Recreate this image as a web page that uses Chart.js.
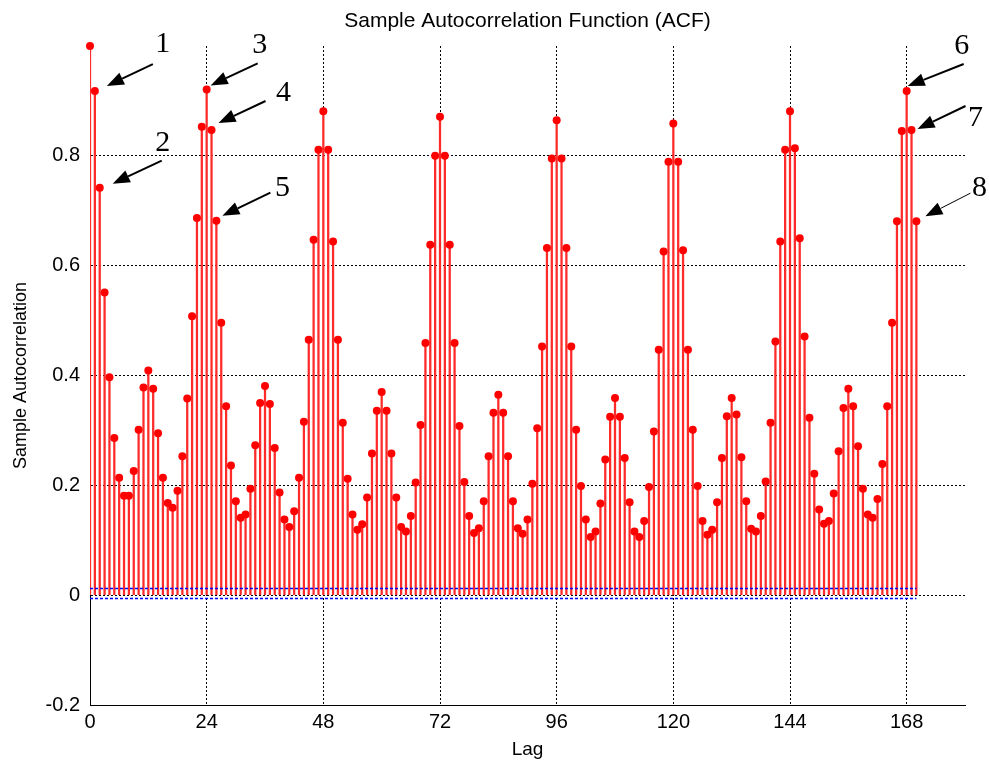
<!DOCTYPE html>
<html><head><meta charset="utf-8">
<script src="https://cdn.jsdelivr.net/npm/chart.js@4/dist/chart.umd.min.js"></script>
<style>html,body{margin:0;padding:0;background:#fff;}#wrap{width:989px;height:767px;}</style>
</head><body><div id="wrap"><canvas id="c" width="989" height="767"></canvas></div>
<script>
const lags = [0,1,2,3,4,5,6,7,8,9,10,11,12,13,14,15,16,17,18,19,20,21,22,23,24,25,26,27,28,29,30,31,32,33,34,35,36,37,38,39,40,41,42,43,44,45,46,47,48,49,50,51,52,53,54,55,56,57,58,59,60,61,62,63,64,65,66,67,68,69,70,71,72,73,74,75,76,77,78,79,80,81,82,83,84,85,86,87,88,89,90,91,92,93,94,95,96,97,98,99,100,101,102,103,104,105,106,107,108,109,110,111,112,113,114,115,116,117,118,119,120,121,122,123,124,125,126,127,128,129,130,131,132,133,134,135,136,137,138,139,140,141,142,143,144,145,146,147,148,149,150,151,152,153,154,155,156,157,158,159,160,161,162,163,164,165,166,167,168,169,170];
const acf = [
1.0, 0.918, 0.742, 0.551, 0.397, 0.286, 0.214, 0.181, 0.181, 0.226,
0.301, 0.378, 0.409, 0.376, 0.295, 0.214, 0.168, 0.159, 0.190, 0.253,
0.358, 0.508, 0.687, 0.853, 0.921, 0.847, 0.682, 0.496, 0.344, 0.236,
0.171, 0.141, 0.147, 0.194, 0.273, 0.350, 0.381, 0.348, 0.268, 0.187,
0.138, 0.124, 0.153, 0.214, 0.316, 0.465, 0.647, 0.811, 0.881, 0.811,
0.644, 0.465, 0.314, 0.212, 0.147, 0.119, 0.129, 0.178, 0.258, 0.336,
0.370, 0.336, 0.258, 0.178, 0.124, 0.116, 0.144, 0.205, 0.310, 0.459,
0.638, 0.800, 0.871, 0.800, 0.638, 0.459, 0.308, 0.206, 0.144, 0.113,
0.122, 0.171, 0.253, 0.332, 0.365, 0.332, 0.253, 0.171, 0.122, 0.112,
0.138, 0.203, 0.304, 0.453, 0.632, 0.795, 0.865, 0.795, 0.632, 0.453,
0.301, 0.199, 0.138, 0.106, 0.116, 0.167, 0.247, 0.325, 0.359, 0.325,
0.250, 0.169, 0.116, 0.106, 0.135, 0.197, 0.298, 0.447, 0.626, 0.789,
0.859, 0.789, 0.628, 0.447, 0.301, 0.199, 0.135, 0.110, 0.119, 0.169,
0.250, 0.326, 0.359, 0.329, 0.251, 0.171, 0.121, 0.116, 0.144, 0.207,
0.314, 0.462, 0.644, 0.811, 0.881, 0.814, 0.650, 0.471, 0.323, 0.221,
0.156, 0.130, 0.135, 0.185, 0.262, 0.341, 0.376, 0.344, 0.271, 0.194,
0.147, 0.141, 0.175, 0.239, 0.344, 0.496, 0.681, 0.845, 0.918, 0.847,
0.681];
const boundLags = [0, 170];
const upperBound = [0.012, 0.012];
const lowerBound = [-0.006, -0.006];
const xTickValues = [0, 24, 48, 72, 96, 120, 144, 168];
const yTickValues = [-0.2, 0, 0.2, 0.4, 0.6, 0.8];
const markLabels = ['1','2','3','4','5','6','7','8'];
const markLags = [1, 2, 24, 25, 26, 168, 169, 170];

// arrow layout (pixel offsets: tip from point, tail from tip, label from tip)
const arrowLayout = [
  {tip:[12,-5], tail:[46,-22], label:[56,-42], w:2},
  {tip:[13,-4], tail:[49,-23], label:[50,-41], w:2},
  {tip:[4,-4], tail:[47,-22], label:[49,-40], w:2},
  {tip:[7,-7], tail:[47,-22], label:[65,-30], w:2},
  {tip:[6,-5], tail:[48,-23], label:[60,-28], w:2},
  {tip:[1,-5], tail:[56,-22], label:[54,-40], w:2},
  {tip:[6,-1], tail:[48,-23], label:[58,-11], w:2},
  {tip:[9,-5], tail:[45,-23], label:[54,-28], w:1}
];

const FONT = '"Liberation Sans", Arial, sans-serif';

const arrowsPlugin = {
  id: 'arrows',
  afterLayout(chart) {
    // centre the title over the plotting area
    const t = chart.titleBlock;
    if (t) { t.left = chart.chartArea.left; t.right = chart.chartArea.right; }
  },
  afterDatasetsDraw(chart) {
    const {ctx, scales:{x, y}} = chart;
    ctx.save();
    markLags.forEach((lag, k) => {
      const a = arrowLayout[k];
      const i = lags.indexOf(lag);
      const px = x.getPixelForValue(lag), py = y.getPixelForValue(acf[i]);
      const tx = px + a.tip[0], ty = py + a.tip[1];
      const sx = tx + a.tail[0], sy = ty + a.tail[1];
      const ang = Math.atan2(ty - sy, tx - sx);
      const L = 17, W = 6.5;
      const bx = tx - L * Math.cos(ang), by = ty - L * Math.sin(ang);
      ctx.strokeStyle = '#000'; ctx.lineWidth = a.w;
      ctx.beginPath(); ctx.moveTo(sx, sy); ctx.lineTo(bx, by); ctx.stroke();
      ctx.beginPath(); ctx.moveTo(tx, ty);
      ctx.lineTo(bx + W * Math.sin(ang), by - W * Math.cos(ang));
      ctx.lineTo(bx - W * Math.sin(ang), by + W * Math.cos(ang));
      ctx.closePath(); ctx.fillStyle = '#000'; ctx.fill();
      ctx.font = '30px "Liberation Serif", "Times New Roman", serif';
      ctx.textAlign = 'center'; ctx.textBaseline = 'middle';
      ctx.fillText(markLabels[k], tx + a.label[0], ty + a.label[1]);
    });
    ctx.restore();
  }
};

const points = lags.map((l, i) => ({x: l, y: acf[i]}));

new Chart(document.getElementById('c'), {
  type: 'bar',
  data: {
    datasets: [
      {type: 'line', data: boundLags.map((l, i) => ({x: l, y: upperBound[i]})), borderColor: '#0000ff', borderWidth: 1.5, borderDash: [3, 2], pointRadius: 0, order: 0},
      {type: 'line', data: boundLags.map((l, i) => ({x: l, y: lowerBound[i]})), borderColor: '#0000ff', borderWidth: 1.5, borderDash: [3, 2], pointRadius: 0, order: 0},
      {type: 'scatter', data: points, pointRadius: 4, pointBackgroundColor: '#ff0000', pointBorderColor: '#ff0000', pointBorderWidth: 0, showLine: false, order: 1, clip: false},
      {type: 'bar', data: points, backgroundColor: '#ff2a2a', barThickness: 1.6, borderWidth: 0, order: 2}
    ]
  },
  options: {
    responsive: false, animation: false, devicePixelRatio: 1,
    layout: {padding: {left: 0, right: 24, top: 0, bottom: 0}},
    plugins: {
      legend: {display: false}, tooltip: {enabled: false},
      title: {display: true, text: 'Sample Autocorrelation Function (ACF)', color: '#000',
        font: {family: FONT, size: 21, weight: 'normal'}, padding: {top: 9, bottom: 11.8}}
    },
    scales: {
      x: {
        type: 'linear', min: 0, max: 180, offset: false,
        afterBuildTicks: s => { s.ticks = xTickValues.map(v => ({value: v})); },
        afterFit: s => { s.height = 62; },
        grid: {color: '#000', lineWidth: 1, drawTicks: false, offset: false},
        border: {display: true, color: '#000', width: 1, dash: [2, 2]},
        ticks: {color: '#000', padding: 5, maxRotation: 0, autoSkip: false, font: {family: FONT, size: 20}, callback: v => String(v)},
        title: {display: true, text: 'Lag', color: '#000', font: {family: FONT, size: 19}, padding: {top: 0, bottom: 6}}
      },
      y: {
        min: -0.2, max: 1.0,
        afterBuildTicks: s => { s.ticks = yTickValues.map(v => ({value: v})); },
        afterFit: s => { s.width = 90; },
        grid: {color: '#000', lineWidth: 1, drawTicks: false, offset: false},
        border: {display: true, color: '#000', width: 1, dash: [2, 2]},
        ticks: {color: '#000', padding: 10, autoSkip: false, font: {family: FONT, size: 20}, callback: v => String(Math.round(v * 10) / 10)},
        title: {display: true, text: 'Sample Autocorrelation', color: '#000', font: {family: FONT, size: 18}, padding: {top: 10, bottom: 0}}
      }
    }
  },
  plugins: [arrowsPlugin]
});
</script></body></html>
